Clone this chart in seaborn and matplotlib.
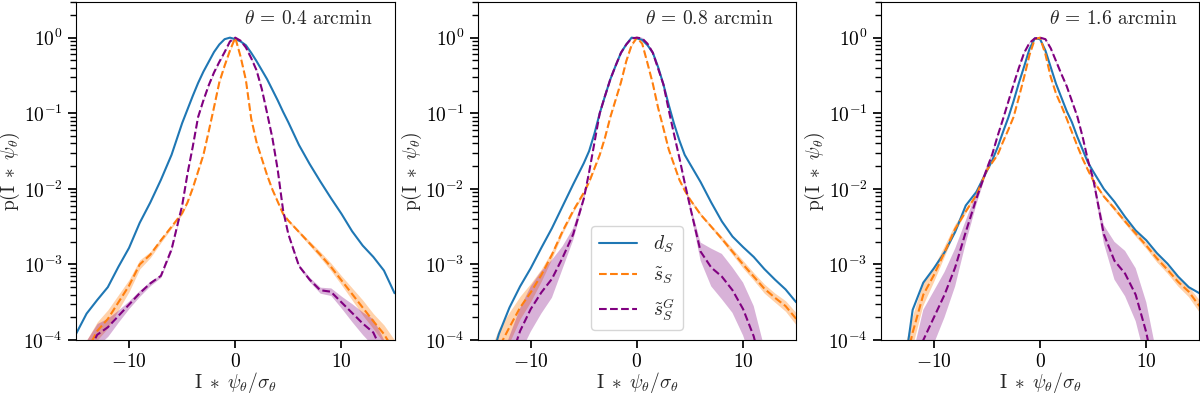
import numpy as np
import pandas as pd
import matplotlib
matplotlib.use("Agg")
import matplotlib.pyplot as plt
import seaborn as sns

# x grid (I * psi / sigma), finer around the peak
x_vals = [-15, -14, -13, -12, -11, -10, -9, -8, -7, -6,
          -5, -4.5, -4, -3.5, -3, -2.5, -2, -1.5, -1, -0.5, 0, 0.5, 1, 1.5, 2, 2.5, 3, 3.5, 4, 4.5, 5,
          6, 7, 8, 9, 10, 11, 12, 13, 14, 15]

thetas = ["0.4", "0.8", "1.6"]

# log10 p
d_S_04 = [-3.92, -3.65, -3.47, -3.30, -3.03, -2.78, -2.45, -2.18, -1.88, -1.55,
          -1.13, -0.95, -0.77, -0.60, -0.45, -0.32, -0.19, -0.09, -0.02, 0.0, -0.02, -0.05, -0.10, -0.20,
          -0.31, -0.43, -0.55, -0.69, -0.83, -0.98, -1.12,
          -1.42, -1.67, -1.90, -2.12, -2.33, -2.56, -2.75, -2.90, -3.08, -3.38]
s_S_04 = [-4.40, -4.15, -3.88, -3.72, -3.50, -3.28, -3.00, -2.87, -2.68, -2.50,
          -2.32, -2.18, -1.99, -1.77, -1.55, -1.24, -0.92, -0.59, -0.37, -0.17, 0.0, -0.25, -0.56, -1.07,
          -1.38, -1.60, -1.82, -2.01, -2.17, -2.33, -2.42,
          -2.57, -2.72, -2.87, -3.03, -3.21, -3.39, -3.57, -3.75, -3.92, -4.15]
s_SG_04 = [-4.50, -4.20, -3.93, -3.83, -3.68, -3.53, -3.38, -3.25, -3.15, -2.80,
           -2.22, -1.80, -1.44, -1.05, -0.83, -0.63, -0.46, -0.32, -0.19, -0.05, 0.0, -0.04, -0.13, -0.27,
           -0.43, -0.68, -1.00, -1.33, -1.75, -2.28, -2.60,
           -3.02, -3.20, -3.34, -3.36, -3.50, -3.64, -3.78, -3.90, -4.20, -4.60]

d_S_08 = [-4.80, -4.40, -3.92, -3.57, -3.29, -3.05, -2.78, -2.52, -2.23, -1.94,
          -1.66, -1.50, -1.27, -1.00, -0.77, -0.55, -0.37, -0.20, -0.09, 0.0, -0.01, -0.03, -0.10, -0.20,
          -0.39, -0.62, -0.89, -1.14, -1.36, -1.55, -1.67,
          -1.91, -2.18, -2.43, -2.63, -2.77, -2.90, -3.06, -3.20, -3.33, -3.50]
s_S_08 = [-4.80, -4.50, -4.10, -3.83, -3.57, -3.37, -3.14, -2.87, -2.56, -2.29,
          -2.05, -1.91, -1.73, -1.55, -1.32, -1.05, -0.82, -0.59, -0.31, -0.10, 0.0, -0.08, -0.34, -0.61,
          -0.93, -1.20, -1.48, -1.68, -1.88, -2.02, -2.14,
          -2.34, -2.50, -2.66, -2.83, -3.00, -3.16, -3.32, -3.44, -3.55, -3.72]
s_SG_08 = [-5.40, -5.20, -4.70, -4.30, -3.88, -3.59, -3.37, -3.19, -2.91, -2.60,
           -2.13, -1.78, -1.39, -1.00, -0.77, -0.55, -0.37, -0.20, -0.09, -0.01, 0.0, -0.01, -0.08, -0.20,
           -0.41, -0.62, -0.96, -1.28, -1.59, -1.92, -2.23,
           -2.83, -3.04, -3.16, -3.34, -3.59, -3.95, -4.50, -5.00, -5.30, -5.50]

d_S_16 = [-5.00, -4.80, -4.60, -3.60, -3.24, -3.05, -2.84, -2.57, -2.22, -2.04,
          -1.76, -1.62, -1.45, -1.25, -1.06, -0.84, -0.60, -0.38, -0.15, -0.01, -0.02, -0.17, -0.39, -0.61,
          -0.79, -0.97, -1.12, -1.31, -1.48, -1.65, -1.77,
          -2.00, -2.17, -2.37, -2.55, -2.68, -2.85, -2.99, -3.16, -3.30, -3.38]
s_S_16 = [-5.00, -4.80, -4.50, -3.90, -3.40, -3.14, -2.84, -2.53, -2.30, -2.08,
          -1.75, -1.65, -1.55, -1.38, -1.22, -1.05, -0.79, -0.52, -0.23, -0.02, 0.0, -0.22, -0.52, -0.74,
          -0.90, -1.07, -1.25, -1.43, -1.60, -1.75, -1.89,
          -2.10, -2.26, -2.43, -2.59, -2.75, -2.92, -3.07, -3.23, -3.36, -3.55]
s_SG_16 = [-5.40, -5.20, -5.00, -4.60, -4.00, -3.70, -3.40, -3.04, -2.57, -2.13,
           -1.73, -1.54, -1.30, -1.08, -0.85, -0.62, -0.40, -0.20, -0.07, -0.01, 0.0, -0.02, -0.14, -0.31,
           -0.48, -0.64, -0.84, -1.04, -1.31, -1.62, -1.87,
           -2.60, -2.95, -3.12, -3.40, -3.90, -4.60, -5.00, -5.20, -5.40, -5.50]

# half width of the shaded spread (log10)
band_s_S_04 = [0.15, 0.15, 0.12, 0.12, 0.10, 0.08, 0.06, 0.04, 0.03, 0.02,
               0.02, 0.01, 0.01, 0.01, 0.01, 0.01, 0.01, 0.01, 0.01, 0.01, 0.01, 0.01, 0.01, 0.01,
               0.01, 0.01, 0.01, 0.01, 0.01, 0.01, 0.02,
               0.02, 0.03, 0.04, 0.05, 0.06, 0.08, 0.10, 0.10, 0.12, 0.15]
band_s_SG_04 = [0.20, 0.20, 0.15, 0.12, 0.08, 0.05, 0.04, 0.03, 0.02, 0.02,
                0.01, 0.01, 0.01, 0.01, 0.01, 0.01, 0.01, 0.01, 0.01, 0.01, 0.01, 0.01, 0.01, 0.01,
                0.01, 0.01, 0.01, 0.01, 0.01, 0.01, 0.01,
                0.02, 0.03, 0.04, 0.05, 0.08, 0.12, 0.15, 0.18, 0.20, 0.20]
band_s_S_08 = [0.30, 0.30, 0.25, 0.20, 0.15, 0.12, 0.08, 0.05, 0.03, 0.02,
               0.02, 0.01, 0.01, 0.01, 0.01, 0.01, 0.01, 0.01, 0.01, 0.01, 0.01, 0.01, 0.01, 0.01,
               0.01, 0.01, 0.01, 0.01, 0.01, 0.01, 0.02,
               0.02, 0.02, 0.03, 0.04, 0.05, 0.05, 0.06, 0.06, 0.07, 0.08]
band_s_SG_08 = [0.35, 0.35, 0.35, 0.35, 0.30, 0.30, 0.28, 0.25, 0.15, 0.08,
                0.04, 0.02, 0.01, 0.01, 0.01, 0.01, 0.01, 0.01, 0.01, 0.01, 0.01, 0.01, 0.01, 0.01,
                0.01, 0.01, 0.01, 0.01, 0.01, 0.02, 0.04,
                0.12, 0.25, 0.30, 0.30, 0.35, 0.40, 0.40, 0.40, 0.40, 0.40]
band_s_S_16 = [0.25, 0.25, 0.25, 0.20, 0.15, 0.10, 0.07, 0.05, 0.03, 0.02,
               0.02, 0.01, 0.01, 0.01, 0.01, 0.01, 0.01, 0.01, 0.01, 0.01, 0.01, 0.01, 0.01, 0.01,
               0.01, 0.01, 0.01, 0.01, 0.01, 0.01, 0.02,
               0.02, 0.03, 0.03, 0.04, 0.04, 0.05, 0.05, 0.06, 0.07, 0.08]
band_s_SG_16 = [0.40, 0.40, 0.40, 0.40, 0.40, 0.35, 0.30, 0.25, 0.15, 0.08,
                0.04, 0.02, 0.01, 0.01, 0.01, 0.01, 0.01, 0.01, 0.01, 0.01, 0.01, 0.01, 0.01, 0.01,
                0.01, 0.01, 0.01, 0.01, 0.01, 0.02, 0.04,
                0.12, 0.25, 0.30, 0.35, 0.40, 0.40, 0.40, 0.40, 0.40, 0.40]

panels = [(d_S_04, s_S_04, s_SG_04, band_s_S_04, band_s_SG_04),
          (d_S_08, s_S_08, s_SG_08, band_s_S_08, band_s_SG_08),
          (d_S_16, s_S_16, s_SG_16, band_s_S_16, band_s_SG_16)]

sns.set_theme(style="ticks")
plt.rcParams["font.family"] = ["cmr10", "DejaVu Serif"]
plt.rcParams["mathtext.fontset"] = "cm"
plt.rcParams["axes.formatter.use_mathtext"] = True
plt.rcParams["axes.facecolor"] = "white"
plt.rcParams["axes.edgecolor"] = "black"
plt.rcParams["xtick.color"] = "black"
plt.rcParams["ytick.color"] = "black"

fig = plt.figure(figsize=(12, 3.95), dpi=100)
lefts = [0.0633, 0.398, 0.734]
c_d, c_s, c_g = "#1f77b4", "#ff7f0e", "purple"
x = np.array(x_vals)

for i, (d, s, g, bs, bg) in enumerate(panels):
    ax = fig.add_axes([lefts[i], 0.139, 0.2655, 0.857])
    s, g, bs, bg = np.array(s), np.array(g), np.array(bs), np.array(bg)
    df = pd.DataFrame({"x": x, "d": 10 ** np.array(d), "s": 10 ** s, "g": 10 ** g})

    ax.fill_between(x, 10 ** (s - bs), 10 ** (s + bs), color=c_s, alpha=0.35, lw=0)
    ax.fill_between(x, 10 ** (g - bg), 10 ** (g + bg), color=c_g, alpha=0.3, lw=0)

    sns.lineplot(data=df, x="x", y="d", ax=ax, color=c_d, lw=1.5, label=r"$d_S$")
    sns.lineplot(data=df, x="x", y="s", ax=ax, color=c_s, lw=1.5, ls="--", label=r"$\tilde{s}_S$")
    sns.lineplot(data=df, x="x", y="g", ax=ax, color=c_g, lw=1.5, ls="--", label=r"$\tilde{s}_S^G$")

    ax.set_yscale("log")
    ax.set_xlim(-15, 15)
    ax.set_ylim(1e-4, 3)
    ax.set_xticks([-10, 0, 10])
    ax.tick_params(labelsize=14, direction="out")
    ax.set_xlabel(r"$\mathrm{I}\;\ast\;\psi_\theta/\sigma_\theta$", fontsize=14, labelpad=-1)
    ax.set_ylabel(r"$\mathrm{p}(\mathrm{I}\;\ast\;\psi_\theta)$", fontsize=14, labelpad=1)
    ax.text(0.93, 0.975, r"$\theta$ = %s arcmin" % thetas[i], transform=ax.transAxes,
            ha="right", va="top", fontsize=14)
    for sp in ax.spines.values():
        sp.set_linewidth(0.8)
    if i == 1:
        ax.legend(loc="lower center", fontsize=14, frameon=True, edgecolor="#cccccc")
    else:
        ax.get_legend().remove()

fig.savefig("out.png", dpi=100)
